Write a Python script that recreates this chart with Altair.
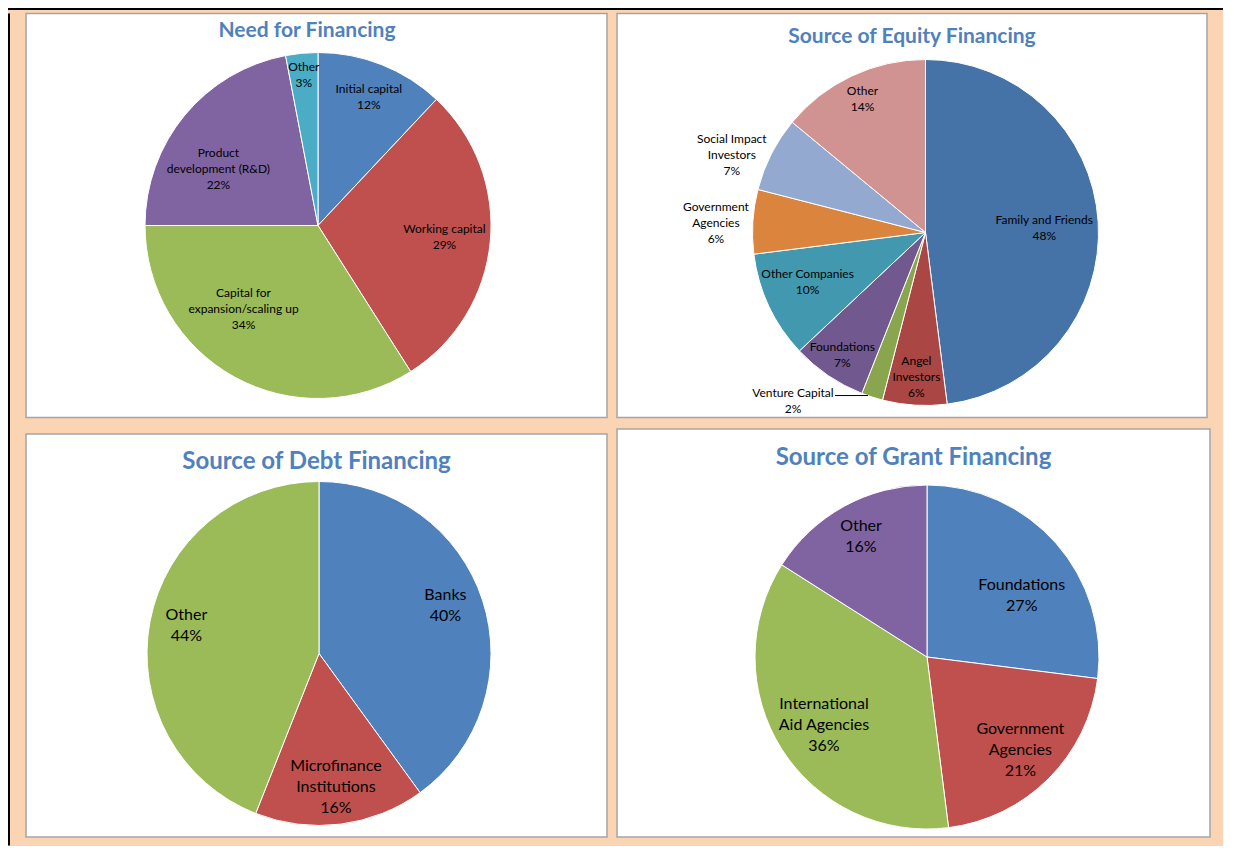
import altair as alt
import pandas as pd

# ---------------- data ----------------
need_categories = ["Initial capital", "Working capital", "Capital for\nexpansion/scaling up",
                   "Product\ndevelopment (R&D)", "Other"]
need_values = [12, 29, 34, 22, 3]

equity_categories = ["Family and Friends", "Angel\nInvestors", "Venture Capital", "Foundations",
                     "Other Companies", "Government\nAgencies", "Social Impact\nInvestors", "Other"]
equity_values = [48, 6, 2, 7, 10, 6, 7, 14]

debt_categories = ["Banks", "Microfinance\nInstitutions", "Other"]
debt_values = [40, 16, 44]

grant_categories = ["Foundations", "Government\nAgencies", "International\nAid Agencies", "Other"]
grant_values = [27, 21, 36, 16]

panel_titles = ["Need for Financing", "Source of Equity Financing",
                "Source of Debt Financing", "Source of Grant Financing"]

# ---------------- styles ----------------
PEACH = "#FBD4B4"
TITLE_BLUE = "#4F81BD"
FONT = "Lato"
need_colors = ["#4F81BD", "#C0504D", "#9BBB59", "#8064A2", "#4BACC6"]
equity_colors = ["#4572A7", "#AA4643", "#89A54E", "#71588F", "#4198AF", "#DB843D", "#93A9CF", "#D19392"]
debt_colors = ["#4F81BD", "#C0504D", "#9BBB59"]
grant_colors = ["#4F81BD", "#C0504D", "#9BBB59", "#8064A2"]


def panel(title, cats, vals, colors, w, h, cx, cy, r, title_size, title_x, title_y,
          label_groups, font_size, line_height, leader=None):
    df = pd.DataFrame({"idx": list(range(len(cats))), "category": cats, "value": vals})
    base = alt.Chart(df)
    arc = base.mark_arc(outerRadius=r, stroke="white", strokeWidth=1).encode(
        theta=alt.Theta("value:Q", stack=True),
        color=alt.Color("category:N", scale=alt.Scale(domain=cats, range=colors), legend=None),
        order=alt.Order("idx:Q"),
        x=alt.value(cx),
        y=alt.value(cy),
    )
    layers = [arc]
    # label angles: middle of each slice, from the cumulative values
    lab_base = base.transform_window(
        cum="sum(value)", sort=[alt.SortField("idx", order="ascending")], frame=[None, 0]
    ).transform_joinaggregate(
        total="sum(value)"
    ).transform_calculate(
        mid="2 * PI * (datum.cum - datum.value / 2) / datum.total",
        label="datum.category + '\\n' + datum.value + '%'",
    )
    for idxs, rad, dx, dy in label_groups:
        n_lines = cats[idxs[0]].count("\n") + 2
        t = lab_base.transform_filter(
            alt.FieldOneOfPredicate(field="idx", oneOf=idxs)
        ).mark_text(
            radius=rad, dx=dx, dy=dy - (n_lines - 1) * line_height / 2,
            fontSize=font_size, lineHeight=line_height,
            lineBreak="\n", font=FONT, color="black", align="center", baseline="middle",
        ).encode(
            theta=alt.Theta("mid:Q", scale=None),
            x=alt.value(cx),
            y=alt.value(cy),
            text="label:N",
        )
        layers.append(t)
    if leader is not None:
        li, length = leader
        rule = lab_base.transform_filter(
            alt.FieldOneOfPredicate(field="idx", oneOf=[li])
        ).transform_calculate(
            ex=f"{cx} + {r} * sin(datum.mid) - 4",
            ey=f"{cy} - {r} * cos(datum.mid) - 1.5",
        ).transform_calculate(
            lx=f"datum.ex - {length}",
        ).mark_rule(color="black", strokeWidth=1).encode(
            x=alt.X("lx:Q", scale=None, axis=None),
            x2="ex:Q",
            y=alt.Y("ey:Q", scale=None, axis=None),
        )
        layers.append(rule)
    ttl = alt.Chart(pd.DataFrame({"t": [title]})).mark_text(
        font=FONT, fontSize=title_size, fontWeight="bold", color=TITLE_BLUE,
        align="center", baseline="middle",
    ).encode(text="t:N", x=alt.value(title_x), y=alt.value(title_y))
    layers.append(ttl)
    return alt.layer(*layers).properties(
        width=w,
        height=h,
        view=alt.ViewBackground(fill="white", stroke="#A5A5A5", strokeWidth=1.5),
    )


p1 = panel(panel_titles[0], need_categories, need_values, need_colors,
           581, 404, 292, 212, 173, 21, 281, 17,
           [([0], 138, 0, 0), ([1], 127, 0, 0), ([2], 111, -21, -14),
            ([3], 115, -11, 17), ([4], 151, 0, 0)], 12, 16)

p2 = panel(panel_titles[1], equity_categories, equity_values, equity_colors,
           590, 404, 308.5, 219, 173, 21, 295, 23,
           [([0], 119, 0, 3), ([1], 145, 0, 0), ([2], 170, -80, 7), ([3], 148, 0, 0),
            ([4], 127, -3, -5), ([5], 210, 0, 4), ([6], 205, -11, 16), ([7], 148, 0, 0)], 12, 16,
           leader=(2, 33))

p3 = panel(panel_titles[2], debt_categories, debt_values, debt_colors,
           581, 403, 293, 219.5, 172, 24, 290.5, 28,
           [([0], 135, -2, -6), ([1], 135, 0, 0), ([2], 135, 0, -3)], 16, 21)

p4 = panel(panel_titles[3], grant_categories, grant_values, grant_colors,
           593, 408, 310, 228, 172, 24, 296.5, 29,
           [([0], 113, 10, 13), ([1], 132, 0, 0), ([2], 122, 0, 3), ([3], 137, 0, 0)], 16, 21)

dummy = pd.DataFrame({"a": [0]})


def bar(w, h):
    return alt.Chart(dummy).mark_point(opacity=0, size=0).encode(
        x=alt.value(0), y=alt.value(0)
    ).properties(width=w, height=h,
                 view=alt.ViewBackground(fill="black", stroke="black", strokeWidth=0))


RES = dict(color="independent", theta="independent", x="independent", y="independent")
left_col = alt.vconcat(p1, p3, spacing=14.5).resolve_scale(**RES)
right_col = alt.vconcat(p2, p4, spacing=9.5).resolve_scale(**RES)
cols = alt.hconcat(left_col, right_col, spacing=8).resolve_scale(**RES)
row = alt.hconcat(bar(2, 832), cols, spacing=15).resolve_scale(**RES)

chart = alt.vconcat(bar(1215, 2), row, spacing=2.5).resolve_scale(**RES).properties(
    background=PEACH,
    padding={"left": 0, "top": 0, "right": 0, "bottom": 0},
)

chart.save("out.html", embed_options={"renderer": "svg", "actions": False})
